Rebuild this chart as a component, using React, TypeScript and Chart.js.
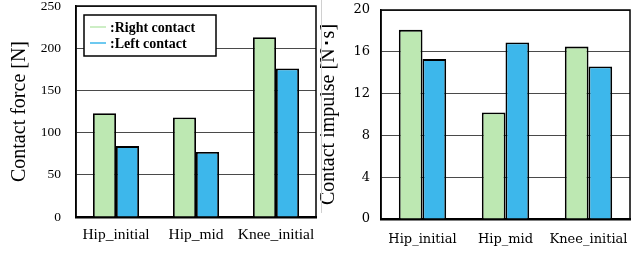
import React, { useEffect, useRef } from "react";
import { Chart, registerables } from "chart.js";

Chart.register(...registerables);

const categories = ["Hip_initial", "Hip_mid", "Knee_initial"];
const seriesNames = ["Right contact", "Left contact"];
const forceRight = [123, 118, 213];
const forceLeft = [84, 77, 176];
const impulseRight = [18.1, 10.2, 16.5];
const impulseLeft = [15.3, 16.9, 14.6];
const forceTicks = [0, 50, 100, 150, 200, 250];
const impulseTicks = [0, 4, 8, 12, 16, 20];

const GREEN = "#BDE8B2";
const BLUE = "#3DB7EB";

const frameBorder = {
  id: "frameBorder",
  afterDatasetsDraw(chart: any) {
    const { ctx, chartArea: a } = chart;
    ctx.save();
    ctx.strokeStyle = "#000";
    ctx.lineWidth = 1.5;
    ctx.beginPath();
    ctx.moveTo(a.left, a.bottom);
    ctx.lineTo(a.left, a.top);
    ctx.lineTo(a.right, a.top);
    ctx.lineTo(a.right, a.bottom);
    ctx.stroke();
    ctx.restore();
  },
};

const boxLegend = {
  id: "boxLegend",
  afterDraw(chart: any, _args: any, opts: any) {
    if (!opts || !opts.show) return;
    const { ctx } = chart;
    const x = opts.x, y = opts.y, w = opts.w, h = opts.h;
    ctx.save();
    ctx.fillStyle = "#fff";
    ctx.fillRect(x, y, w, h);
    ctx.strokeStyle = "#000";
    ctx.lineWidth = 1.5;
    ctx.strokeRect(x, y, w, h);
    chart.data.datasets.forEach((ds: any, i: number) => {
      const cy = y + 12 + i * 16;
      ctx.strokeStyle = ds.backgroundColor;
      ctx.lineWidth = 1.5;
      ctx.beginPath();
      ctx.moveTo(x + 6, cy);
      ctx.lineTo(x + 22, cy);
      ctx.stroke();
      ctx.fillStyle = "#000";
      ctx.font = "bold 14px 'Liberation Serif'";
      ctx.textBaseline = "middle";
      ctx.fillText(":" + ds.label, x + 26, cy + 1);
    });
    ctx.restore();
  },
};

function makeConfig(p: any) {
  return {
    type: "bar",
    data: {
      labels: categories,
      datasets: [
        {
          label: seriesNames[0],
          data: p.right,
          backgroundColor: GREEN,
          borderColor: "#000",
          borderWidth: 1.8,
        },
        {
          label: seriesNames[1],
          data: p.left,
          backgroundColor: BLUE,
          borderColor: "#000",
          borderWidth: 1.8,
        },
      ],
    },
    options: {
      animation: false,
      responsive: false,
      maintainAspectRatio: false,
      layout: { padding: p.padding },
      datasets: { bar: { categoryPercentage: p.catPct, barPercentage: 1 } },
      plugins: {
        legend: { display: false },
        tooltip: { enabled: false },
        boxLegend: p.legend,
      },
      scales: {
        x: {
          grid: { display: false, drawTicks: false },
          border: { color: "#000", width: 2.5 },
          ticks: {
            color: "#000",
            font: { family: p.xFont, size: p.xSize },
            padding: p.xPad,
            maxRotation: 0,
            autoSkip: false,
          },
          afterFit(scale: any) {
            scale.height = p.xHeight;
            scale.paddingLeft = 0;
            scale.paddingRight = 0;
          },
        },
        y: {
          min: 0,
          max: p.ticks[p.ticks.length - 1],
          afterBuildTicks(scale: any) {
            scale.ticks = p.ticks.map((v: number) => ({ value: v }));
          },
          grid: { color: "#4a4a4a", lineWidth: 1, drawTicks: false },
          border: { color: "#000", width: 1.5 },
          ticks: {
            color: "#000",
            font: { family: p.yFont, size: p.ySize },
            padding: p.yPad,
          },
          title: {
            display: true,
            text: p.title,
            color: "#000",
            font: { family: "'Liberation Serif'", size: 20, lineHeight: p.titleLH },
            padding: { top: p.titlePad, bottom: 0 },
          },
          afterFit(scale: any) {
            scale.width = p.yWidth;
            scale.paddingTop = 0;
            scale.paddingBottom = 0;
          },
        },
      },
    },
    plugins: [frameBorder, boxLegend],
  } as any;
}

function BarChart(props: { cfg: any; width: number; height: number }) {
  const ref = useRef<HTMLCanvasElement | null>(null);
  useEffect(() => {
    if (!ref.current) return;
    const chart = new Chart(ref.current, props.cfg);
    return () => chart.destroy();
  }, []);
  return (
    <canvas
      ref={ref}
      width={props.width}
      height={props.height}
      style={{ width: props.width, height: props.height, display: "block" }}
    />
  );
}

export default function App() {
  const leftCfg = makeConfig({
    right: forceRight,
    left: forceLeft,
    ticks: forceTicks,
    title: "Contact force [N]",
    padding: { left: 0, right: 2, top: 6, bottom: 0 },
    catPct: 0.575,
    xFont: "'Liberation Serif'",
    xSize: 15.5,
    xPad: 9,
    xHeight: 37,
    yFont: "'Liberation Serif'",
    ySize: 13.5,
    yPad: 15,
    yWidth: 76,
    titleLH: 1.2,
    titlePad: 8,
    legend: { show: true, x: 84, y: 15, w: 132, h: 41 },
  });
  const rightCfg = makeConfig({
    right: impulseRight,
    left: impulseLeft,
    ticks: impulseTicks,
    title: "Contact impulse [N\uFF65s]",
    padding: { left: 0, right: 7, top: 10, bottom: 0 },
    catPct: 0.57,
    xFont: "'DejaVu Serif'",
    xSize: 13,
    xPad: 13,
    xHeight: 35,
    yFont: "'DejaVu Serif'",
    ySize: 13,
    yPad: 11,
    yWidth: 63,
    titleLH: 1.1,
    titlePad: 0,
    legend: { show: false },
  });
  return (
    <div
      style={{
        position: "absolute",
        left: 0,
        top: 0,
        width: 637,
        height: 254,
        background: "#fff",
        overflow: "hidden",
      }}
    >
      <div style={{ position: "absolute", left: 0, top: 0 }}>
        <BarChart cfg={leftCfg} width={318} height={254} />
      </div>
      <div style={{ position: "absolute", left: 318, top: 0 }}>
        <BarChart cfg={rightCfg} width={319} height={254} />
      </div>
      <div
        style={{
          position: "absolute",
          left: 321,
          top: 0,
          width: 1,
          height: 213,
          background: "#d0d0d0",
        }}
      />
    </div>
  );
}
